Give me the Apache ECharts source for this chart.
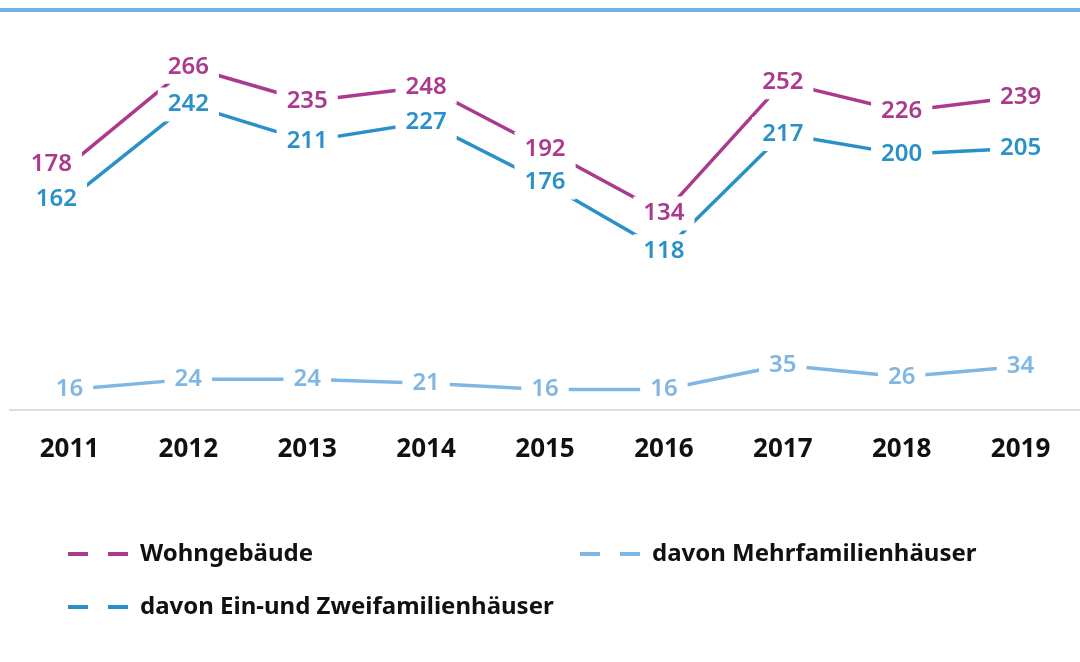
<!DOCTYPE html>
<html><head><meta charset="utf-8">
<script src="https://cdn.jsdelivr.net/npm/echarts@6/dist/echarts.min.js"></script>
<style>html,body{margin:0;padding:0;background:#fff}#c{width:1080px;height:662px}</style>
</head><body><div id="c"></div>
<script>
const years = ['2011','2012','2013','2014','2015','2016','2017','2018','2019'];
const wohngebaeude = [178,266,235,248,192,134,252,226,239];
const einZwei = [162,242,211,227,176,118,217,200,205];
const mehr = [16,24,24,21,16,16,35,26,34];
const names = ['Wohngebäude','davon Ein-und Zweifamilienhäuser','davon Mehrfamilienhäuser'];
const colors = ['#ab3a8f','#2a91c8','#80b6e2'];

const chart = echarts.init(document.getElementById('c'));
const dashIcon = 'path://M0,0 h20 v4 h-20 Z M40,0 h20 v4 h-20 Z';
const firstShift = (arr, dx) => arr.map((v,i)=> i===0 ? {value:v,label:{offset:[dx,0]}} : v);
function mk(name, data, color, axis){
  return {
    name, type:'line', data, yAxisIndex: axis,
    symbol:'circle', symbolSize:1, showSymbol:true,
    lineStyle:{color, width:3.5}, itemStyle:{color},
    label:{show:true, position:'inside', color, fontFamily:'Noto Sans', fontSize:24, fontWeight:600,
      backgroundColor:'#fff', padding:[5,10]},
    emphasis:{disabled:true}, animation:false
  };
}
const hiddenY = (min,max)=>({type:'value', min, max, show:false, splitLine:{show:false}});
const legText = {color:'#111', fontFamily:'Noto Sans', fontWeight:'bold', fontSize:24, padding:[0,0,0,7]};
chart.setOption({
  animation:false,
  graphic:[{type:'rect', shape:{x:0,y:8,width:1080,height:4}, style:{fill:'#72b1e0'}}],
  grid:{left:10, top:20, width:1083.6, height:390},
  xAxis:{type:'category', data:years, boundaryGap:true,
    axisLine:{onZero:false, lineStyle:{color:'#dcdcdc', width:2}}, axisTick:{show:false},
    axisLabel:{color:'#111', fontFamily:'Noto Sans', fontWeight:'bold', fontSize:26, margin:27}},
  yAxis:[hiddenY(-42.9,308.1), hiddenY(-16.1,313.3), hiddenY(0,305.6)],
  legend:[
    {data:[names[0],names[1]], orient:'vertical', left:63, top:537, itemGap:29,
     icon:dashIcon, itemWidth:60, itemHeight:4, textStyle:legText},
    {data:[names[2]], orient:'vertical', left:575, top:537,
     icon:dashIcon, itemWidth:60, itemHeight:4, textStyle:legText}
  ],
  series:[
    mk(names[0], firstShift(wohngebaeude,-18), colors[0], 0),
    mk(names[1], firstShift(einZwei,-13), colors[1], 1),
    mk(names[2], mehr, colors[2], 2)
  ]
});
</script></body></html>
